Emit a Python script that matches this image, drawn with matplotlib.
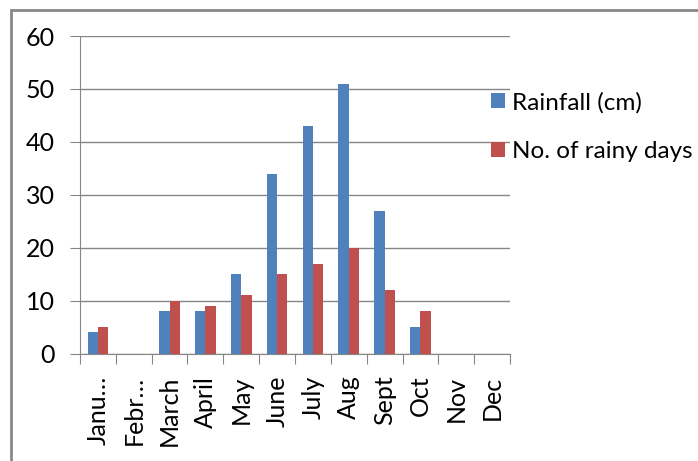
import matplotlib
matplotlib.use("Agg")
import matplotlib.pyplot as plt
import numpy as np
from matplotlib.patches import Rectangle

months = ['Janu…', 'Febr…', 'March', 'April', 'May', 'June', 'July',
          'Aug', 'Sept', 'Oct', 'Nov', 'Dec']
rainfall = [4, 0, 8, 8, 15, 34, 43, 51, 27, 5, 0, 0]
rainy_days = [5, 0, 10, 9, 11, 15, 17, 20, 12, 8, 0, 0]

plt.rcParams['font.family'] = ['Lato', 'DejaVu Sans']

fig = plt.figure(figsize=(6.98, 4.61), dpi=100)
ax = fig.add_axes([80 / 698, 1 - 353.5 / 461, 430 / 698, 317.5 / 461])

# border around the chart (only top and left visible)
fig.patches.append(Rectangle((11 / 698, -0.1), 1.2, 1 - 10 / 461 + 0.1,
                             transform=fig.transFigure, fill=False,
                             edgecolor='#888888', linewidth=2))

x = np.arange(len(months))
w = 0.29
ax.bar(x - w / 2, rainfall, w, color='#4F81BD', label='Rainfall (cm)', zorder=3)
ax.bar(x + w / 2, rainy_days, w, color='#C0504D', label='No. of rainy days', zorder=3)

ax.set_xlim(-0.5, len(months) - 0.5)
ax.set_ylim(0, 60)
ax.set_yticks(range(0, 61, 10))
ax.grid(axis='y', color='#868686', linewidth=1, zorder=0)

for s in ['top', 'right']:
    ax.spines[s].set_visible(False)
ax.spines['left'].set_color('#868686')
ax.spines['bottom'].set_color('#868686')

ax.set_xticks(np.arange(-0.5, len(months), 1))
ax.set_xticklabels([])
ax.set_xticks(x, minor=True)
ax.set_xticklabels(months, minor=True, rotation=90, fontsize=18)
ax.tick_params(axis='x', which='major', length=7, color='#868686')
ax.tick_params(axis='x', which='minor', length=0, pad=16)
ax.tick_params(axis='y', length=7, color='#868686', labelsize=18, pad=11)

ax.legend(loc='upper left', bbox_to_anchor=(0.91, 0.885), frameon=False,
          fontsize=17.5, handlelength=0.57, handleheight=0.57, handletextpad=0.3,
          labelspacing=1.15, borderaxespad=0.4)

fig.savefig('out.png', dpi=100)
